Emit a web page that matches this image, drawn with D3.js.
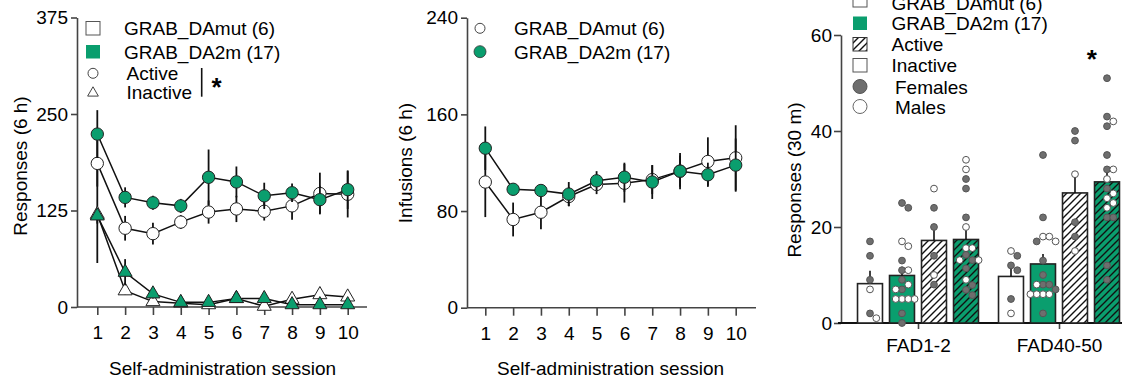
<!DOCTYPE html>
<html>
<head>
<meta charset="utf-8">
<script src="https://cdn.jsdelivr.net/npm/d3@7"></script>
<style>
  body { margin: 0; background: #fff; }
  svg { font-family: "Liberation Sans", Arial, sans-serif; }
</style>
</head>
<body>
<div class="container"></div>
<script>
const w = 1122;
const h = 380;
const green = '#0a9e6e';
const fontSize = 19;

// sessions 1-10
const sessions = [1, 2, 3, 4, 5, 6, 7, 8, 9, 10];

// left panel: lever responses (6 h)
const activeMut = [186, 102, 95, 110, 123, 127, 124, 131, 147, 146];
const activeMutSem = [30, 16, 14, 9, 15, 17, 12, 18, 27, 30];
const activeDA2m = [224, 142, 135, 131, 168, 162, 144, 148, 139, 152];
const activeDA2mSem = [31, 13, 9, 9, 36, 20, 17, 12, 18, 25];
const inactiveMut = [120, 21, 7, 5, 3, 11, 1, 10, 16, 13];
const inactiveMutSem = [63, 5, 3, 2, 2, 4, 2, 3, 10, 8];
const inactiveDA2m = [118, 45, 17, 6, 6, 11, 11, 3, 3, 3];
const inactiveDA2mSem = [10, 17, 6, 3, 2, 4, 3, 2, 2, 2];
const respTicks = [0, 125, 250, 375];

// middle panel: infusions (6 h)
const infMut = [104, 73, 79, 92, 102, 103, 106, 113, 121, 124];
const infMutSem = [29, 14, 14, 8, 8, 16, 12, 15, 20, 27];
const infDA2m = [132, 98, 97, 94, 105, 108, 104, 113, 110, 118];
const infDA2mSem = [18, 3, 4, 10, 8, 12, 14, 13, 10, 22];
const infTicks = [0, 80, 160, 240];

// right panel: responses (30 m), bars = mut inactive, DA2m inactive, mut active, DA2m active
const fadGroups = ['FAD1-2', 'FAD40-50'];
const barKeys = ['mutInactive', 'da2mInactive', 'mutActive', 'da2mActive'];
const fad12Means = [8.2, 9.9, 17.2, 17.4];
const fad12Sems = [2.7, 1.8, 2.8, 3.0];
const fad4050Means = [9.7, 12.3, 27.1, 29.4];
const fad4050Sems = [2.2, 2.1, 4.1, 2.8];
const fad12Females = [[17, 14, 9, 2], [25, 24, 13, 11, 9, 7, 2, 0], [24, 20, 14, 8], [30, 28, 22, 14.2, 13.1, 11.4, 7.9, 6.9, 5.8]];
const fad12Males = [[7, 1], [17, 16, 11, 8, 7, 5, 5, 5, 5], [28, 10], [34, 32, 20, 15.6, 15.6, 13.1, 13.1, 9]];
const fad4050Females = [[14, 12, 11, 5], [35, 22, 17, 13, 10, 8, 8, 7, 2], [40, 38, 21, 18], [51, 43, 41, 35, 32, 28, 22, 22, 12, 9]];
const fad4050Males = [[15, 2], [18, 17, 18, 8, 6, 6, 6, 6], [31, 15], [42, 32, 30, 27, 26, 25, 24]];
const fadTicks = [0, 20, 40, 60];

let svg = null;

window.onload = () => {
  setSvg();
  setPatterns();
  drawResponses();
  drawInfusions();
  drawBars();
};

function setSvg() {
  svg = d3.select('.container').append('svg')
    .attr('width', w)
    .attr('height', h);
}

function setPatterns() {
  const defs = svg.append('defs');
  defs.append('pattern')
    .attr('id', 'hatch')
    .attr('patternUnits', 'userSpaceOnUse')
    .attr('width', 7)
    .attr('height', 7)
    .append('path')
    .attr('d', 'M-1,1 l2,-2 M0,7 l7,-7 M6,8 l2,-2')
    .attr('stroke', '#111')
    .attr('stroke-width', 1.4);
}

function styleAxis(g) {
  g.selectAll('path.domain').attr('stroke', '#444').attr('stroke-width', 1.6);
  g.selectAll('.tick line').attr('stroke', '#444').attr('stroke-width', 1.6);
  g.selectAll('.tick text').attr('fill', '#000').style('font-size', fontSize + 'px')
    .style('font-family', '"Liberation Sans", Arial, sans-serif');
}

function series(values, sems) {
  return sessions.map((s, i) => ({ s: s, v: values[i], e: sems[i] }));
}

function drawAxes(x, y, ticks, xLeft, xRight, title, titleX, titleY) {
  const yAxis = svg.append('g')
    .attr('transform', `translate(${xLeft},0)`)
    .call(d3.axisLeft(y).tickValues(ticks).tickSize(6).tickPadding(3).tickSizeOuter(0));
  styleAxis(yAxis);

  const xAxis = svg.append('g')
    .attr('transform', `translate(0,${y(0)})`)
    .call(d3.axisBottom(x).tickValues(sessions).tickSize(8).tickPadding(11));
  xAxis.select('path.domain').remove();
  xAxis.append('line')
    .attr('x1', xLeft).attr('x2', xRight)
    .attr('stroke', '#444').attr('stroke-width', 1.6);
  styleAxis(xAxis);

  svg.append('text')
    .attr('transform', `translate(${titleX},${titleY}) rotate(-90)`)
    .attr('text-anchor', 'middle')
    .style('font-size', fontSize + 'px')
    .text(title);

  svg.append('text')
    .attr('x', (x(1) + x(10)) / 2)
    .attr('y', 375)
    .attr('text-anchor', 'middle')
    .style('font-size', fontSize + 'px')
    .text('Self-administration session');
}

function drawSeries(data, x, y, shape, fill) {
  const line = d3.line().x((d) => x(d.s)).y((d) => y(d.v));
  svg.append('path')
    .datum(data)
    .attr('d', line)
    .attr('fill', 'none')
    .attr('stroke', '#111')
    .attr('stroke-width', 1.5);

  svg.append('g').selectAll('line').data(data).enter().append('line')
    .attr('x1', (d) => x(d.s))
    .attr('x2', (d) => x(d.s))
    .attr('y1', (d) => y(d.v - d.e))
    .attr('y2', (d) => y(d.v + d.e))
    .attr('stroke', '#111')
    .attr('stroke-width', 1.8);

  const sym = d3.symbol().type(shape === 'tri' ? d3.symbolTriangle : d3.symbolCircle)
    .size(shape === 'tri' ? 85 : 120);
  svg.append('g').selectAll('path').data(data).enter().append('path')
    .attr('d', sym)
    .attr('transform', (d) => `translate(${x(d.s)},${y(d.v)})`)
    .attr('fill', fill)
    .attr('stroke', '#222')
    .attr('stroke-width', 1);
}

function legendText(x, y, label) {
  svg.append('text')
    .attr('x', x).attr('y', y)
    .style('font-size', fontSize + 'px')
    .text(label);
}

function drawResponses() {
  const x = d3.scaleLinear().domain([1, 10]).range([97.3, 347.7]);
  const y = d3.scaleLinear().domain([0, 375]).range([307, 17.5]);

  drawAxes(x, y, respTicks, 77, 367, 'Responses (6 h)', 27, 166);

  drawSeries(series(inactiveMut, inactiveMutSem), x, y, 'tri', '#fff');
  drawSeries(series(inactiveDA2m, inactiveDA2mSem), x, y, 'tri', green);
  drawSeries(series(activeMut, activeMutSem), x, y, 'circle', '#fff');
  drawSeries(series(activeDA2m, activeDA2mSem), x, y, 'circle', green);

  // legend
  svg.append('rect').attr('x', 86).attr('y', 21.5).attr('width', 14).attr('height', 13.5)
    .attr('fill', '#fff').attr('stroke', '#555').attr('stroke-width', 1);
  svg.append('rect').attr('x', 86).attr('y', 45).attr('width', 14).attr('height', 13.5)
    .attr('fill', green);
  svg.append('circle').attr('cx', 93).attr('cy', 73.3).attr('r', 5)
    .attr('fill', '#fff').attr('stroke', '#444').attr('stroke-width', 1);
  svg.append('path').attr('d', d3.symbol().type(d3.symbolTriangle).size(50))
    .attr('transform', 'translate(93,93)')
    .attr('fill', '#fff').attr('stroke', '#444').attr('stroke-width', 1);
  legendText(124, 35, 'GRAB_DAmut (6)');
  legendText(124, 58.5, 'GRAB_DA2m (17)');
  legendText(126.5, 80, 'Active');
  legendText(126.5, 98.5, 'Inactive');
  svg.append('line').attr('x1', 201.7).attr('x2', 201.7).attr('y1', 68).attr('y2', 96.7)
    .attr('stroke', '#111').attr('stroke-width', 1.6);
  svg.append('text').attr('x', 216.5).attr('y', 96)
    .attr('text-anchor', 'middle')
    .style('font-size', '26px').style('font-weight', 'bold')
    .text('*');
}

function drawInfusions() {
  const x = d3.scaleLinear().domain([1, 10]).range([485.3, 735.7]);
  const y = d3.scaleLinear().domain([0, 240]).range([307.7, 17.7]);

  drawAxes(x, y, infTicks, 467, 756, 'Infusions (6 h)', 412, 163);

  drawSeries(series(infMut, infMutSem), x, y, 'circle', '#fff');
  drawSeries(series(infDA2m, infDA2mSem), x, y, 'circle', green);

  svg.append('circle').attr('cx', 480).attr('cy', 28.3).attr('r', 5)
    .attr('fill', '#fff').attr('stroke', '#444').attr('stroke-width', 1);
  svg.append('circle').attr('cx', 480).attr('cy', 51.7).attr('r', 6)
    .attr('fill', green).attr('stroke', '#333').attr('stroke-width', 0.8);
  legendText(514, 35, 'GRAB_DAmut (6)');
  legendText(514, 58.5, 'GRAB_DA2m (17)');
}

// simple beeswarm: push a dot sideways until it no longer overlaps
function swarm(dots, y, r) {
  const placed = [];
  dots.forEach((d) => {
    const py = y(d.v);
    const steps = [0, 1, -1, 2, -2, 3, -3];
    for (const k of steps) {
      const px = k * (r * 2 - 0.5);
      const hit = placed.some((p) => Math.hypot(p.dx - px, p.py - py) < r * 2 - 0.6);
      if (!hit) {
        placed.push({ dx: px, py: py, sex: d.sex });
        break;
      }
    }
  });
  return placed;
}

function drawBars() {
  const y = d3.scaleLinear().domain([0, 60]).range([323, 35]);
  const gx = d3.scalePoint().domain(fadGroups).range([918, 1059]);
  const bx = d3.scaleBand().domain(barKeys).range([-64, 64]).paddingInner(0.22).paddingOuter(0.11);

  const means = [fad12Means, fad4050Means];
  const sems = [fad12Sems, fad4050Sems];
  const females = [fad12Females, fad4050Females];
  const males = [fad12Males, fad4050Males];

  const bars = [];
  fadGroups.forEach((g, gi) => {
    barKeys.forEach((k, bi) => {
      bars.push({
        group: g, key: k,
        mean: means[gi][bi], sem: sems[gi][bi],
        dots: females[gi][bi].map((v) => ({ v: v, sex: 'f' }))
          .concat(males[gi][bi].map((v) => ({ v: v, sex: 'm' })))
          .sort((a, b) => b.v - a.v),
      });
    });
  });

  const left = (d) => gx(d.group) + bx(d.key);
  const isGreen = (d) => d.key.startsWith('da2m');
  const isActive = (d) => d.key.endsWith('Active');

  // axes
  const yAxis = svg.append('g')
    .attr('transform', 'translate(841,0)')
    .call(d3.axisLeft(y).tickValues(fadTicks).tickSize(7).tickPadding(2).tickSizeOuter(0));
  styleAxis(yAxis);

  const xAxis = svg.append('g')
    .attr('transform', `translate(0,${y(0)})`)
    .call(d3.axisBottom(gx).tickSize(6).tickPadding(10));
  xAxis.select('path.domain').remove();
  xAxis.append('line').attr('x1', 838).attr('x2', w)
    .attr('stroke', '#111').attr('stroke-width', 1.8);
  styleAxis(xAxis);

  svg.append('text')
    .attr('transform', 'translate(801,180) rotate(-90)')
    .attr('text-anchor', 'middle')
    .style('font-size', fontSize + 'px')
    .text('Responses (30 m)');

  // bars
  const bg = svg.append('g');
  bg.selectAll('rect.fill').data(bars).enter().append('rect')
    .attr('x', left)
    .attr('y', (d) => y(d.mean))
    .attr('width', bx.bandwidth())
    .attr('height', (d) => y(0) - y(d.mean))
    .attr('fill', (d) => (isGreen(d) ? green : '#fff'));
  bg.selectAll('rect.hatch').data(bars.filter(isActive)).enter().append('rect')
    .attr('x', left)
    .attr('y', (d) => y(d.mean))
    .attr('width', bx.bandwidth())
    .attr('height', (d) => y(0) - y(d.mean))
    .attr('fill', 'url(#hatch)');
  bg.selectAll('rect.edge').data(bars).enter().append('rect')
    .attr('x', left)
    .attr('y', (d) => y(d.mean))
    .attr('width', bx.bandwidth())
    .attr('height', (d) => y(0) - y(d.mean))
    .attr('fill', 'none')
    .attr('stroke', '#222')
    .attr('stroke-width', 1.6);

  // error bars (upper only)
  bg.selectAll('line.err').data(bars).enter().append('line')
    .attr('x1', (d) => left(d) + bx.bandwidth() / 2)
    .attr('x2', (d) => left(d) + bx.bandwidth() / 2)
    .attr('y1', (d) => y(d.mean))
    .attr('y2', (d) => y(d.mean + d.sem))
    .attr('stroke', '#111')
    .attr('stroke-width', 1.6);

  // individual animals
  const r = 3.4;
  bars.forEach((b) => {
    const cx = left(b) + bx.bandwidth() / 2;
    const pts = swarm(b.dots, y, r);
    svg.append('g').selectAll('circle').data(pts).enter().append('circle')
      .attr('cx', (d) => cx + d.dx)
      .attr('cy', (d) => d.py)
      .attr('r', r)
      .attr('fill', (d) => (d.sex === 'f' ? '#6e6e6e' : '#fff'))
      .attr('stroke', (d) => (d.sex === 'f' ? '#555' : '#555'))
      .attr('stroke-width', 1);
  });

  svg.append('text').attr('x', 1091.7).attr('y', 68)
    .attr('text-anchor', 'middle')
    .style('font-size', '26px').style('font-weight', 'bold')
    .text('*');

  // legend
  const lx = 853;
  svg.append('rect').attr('x', lx).attr('y', -6).attr('width', 14).attr('height', 13)
    .attr('fill', '#fff').attr('stroke', '#555');
  svg.append('rect').attr('x', lx).attr('y', 16.5).attr('width', 14).attr('height', 13.5)
    .attr('fill', green);
  svg.append('rect').attr('x', lx).attr('y', 37.5).attr('width', 14).attr('height', 13.5)
    .attr('fill', 'url(#hatch)').attr('stroke', '#333');
  svg.append('rect').attr('x', lx).attr('y', 58.5).attr('width', 14).attr('height', 13.5)
    .attr('fill', '#fff').attr('stroke', '#555');
  svg.append('circle').attr('cx', lx + 7).attr('cy', 86.5).attr('r', 7)
    .attr('fill', '#6e6e6e').attr('stroke', '#555');
  svg.append('circle').attr('cx', lx + 7).attr('cy', 106.5).attr('r', 7)
    .attr('fill', '#fff').attr('stroke', '#666');
  legendText(891.5, 9.5, 'GRAB_DAmut (6)');
  legendText(891.5, 30, 'GRAB_DA2m (17)');
  legendText(891.5, 51, 'Active');
  legendText(891.5, 72, 'Inactive');
  legendText(895, 93.5, 'Females');
  legendText(895, 113.5, 'Males');
}
</script>
</body>
</html>
